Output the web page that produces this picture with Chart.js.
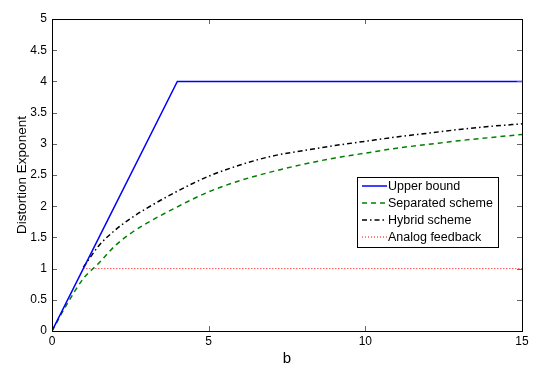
<!doctype html>
<html>
<head>
  <title>Distortion exponent</title>
  <script src="https://cdn.jsdelivr.net/npm/chart.js@4.4.1/dist/chart.umd.min.js"></script>
  <style>
    body { margin: 0; background: #fff; }
    #wrap { width: 546px; height: 372px; }
  </style>
</head>
<body>
  <div id="wrap"><canvas id="canvas"></canvas></div>
  <script>
    // values
    var upperB = [0, 4, 15];
    var upperD = [0, 4, 4];

    var sepB = [0, 0.5, 1, 1.5, 2, 2.5, 3, 4, 5, 6, 7, 8, 9, 10, 11, 12, 13, 14, 15];
    var sepD = [0, 0.45, 0.84, 1.09, 1.36, 1.56, 1.72, 1.99, 2.23, 2.41, 2.55, 2.67, 2.77, 2.85, 2.93, 2.99, 3.05, 3.10, 3.15];

    var hybB = [1, 1.5, 2, 2.5, 3, 4, 5, 6, 7, 8, 9, 10, 11, 12, 13, 14, 15];
    var hybD = [1.02, 1.37, 1.61, 1.80, 1.96, 2.24, 2.48, 2.66, 2.8, 2.89, 2.97, 3.04, 3.11, 3.17, 3.23, 3.28, 3.32];

    var anaB = [1, 15];
    var anaD = [1, 1];

    var xTicks = [0, 5, 10, 15];
    var yTicks = [0, 0.5, 1, 1.5, 2, 2.5, 3, 3.5, 4, 4.5, 5];

    function pts(xs, ys) {
      return xs.map(function (x, i) { return { x: x, y: ys[i] }; });
    }

    var font = 'Helvetica, "Liberation Sans", Arial, sans-serif';

    // MATLAB style box, inward ticks and legend
    var boxPlugin = {
      id: 'box',
      afterDraw: function (chart) {
        var c = chart.ctx, a = chart.chartArea;
        var xs = chart.scales.x, ys = chart.scales.y;
        c.save();
        c.lineWidth = 1;
        c.beginPath();
        xTicks.forEach(function (v) {
          var px = Math.round(xs.getPixelForValue(v)) + 0.5;
          c.moveTo(px, a.bottom); c.lineTo(px, a.bottom - 5);
          c.moveTo(px, a.top); c.lineTo(px, a.top + 5);
        });
        yTicks.forEach(function (v) {
          var py = Math.round(ys.getPixelForValue(v)) + 0.5;
          c.moveTo(a.left, py); c.lineTo(a.left + 5, py);
          c.moveTo(a.right, py); c.lineTo(a.right - 5, py);
        });
        c.strokeStyle = '#666';
        c.stroke();
        c.strokeStyle = '#000';
        c.strokeRect(Math.round(a.left) + 0.5, Math.round(a.top) + 0.5,
          Math.round(a.right - a.left), Math.round(a.bottom - a.top));

        // legend
        var lx = 357.5, ly = 177.5, lw = 141, lh = 70;
        c.fillStyle = '#fff';
        c.fillRect(lx, ly, lw, lh);
        c.strokeStyle = '#000';
        c.strokeRect(lx, ly, lw, lh);
        c.font = '12.5px ' + font;
        c.textBaseline = 'middle';
        chart.data.datasets.forEach(function (ds, i) {
          var y = 186 + i * 17;
          c.beginPath();
          c.setLineDash(ds.borderDash || []);
          c.strokeStyle = ds.borderColor;
          c.lineWidth = ds.borderWidth;
          c.moveTo(362, y); c.lineTo(387, y);
          c.stroke();
          c.setLineDash([]);
          c.fillStyle = '#000';
          c.fillText(ds.label, 388, y + 1);
        });
        c.restore();
      }
    };

    function fmt(v) { return String(+v.toFixed(2)); }

    new Chart(document.getElementById('canvas'), {
      type: 'line',
      data: {
        datasets: [
          { label: 'Upper bound', data: pts(upperB, upperD), borderColor: '#0000ff', borderWidth: 1.5, tension: 0 },
          { label: 'Separated scheme', data: pts(sepB, sepD), borderColor: '#008000', borderWidth: 1.5, borderDash: [5, 4], cubicInterpolationMode: 'monotone' },
          { label: 'Hybrid scheme', data: pts(hybB, hybD), borderColor: '#000000', borderWidth: 1.5, borderDash: [5, 3, 1.5, 3], cubicInterpolationMode: 'monotone' },
          { label: 'Analog feedback', data: pts(anaB, anaD), borderColor: '#ff0000', borderWidth: 1, borderDash: [1, 2] }
        ]
      },
      options: {
        responsive: true,
        maintainAspectRatio: false,
        animation: false,
        events: [],
        elements: { point: { radius: 0 } },
        layout: { padding: { left: 0, right: 24, top: 19, bottom: 0 } },
        plugins: { legend: { display: false }, tooltip: { enabled: false } },
        scales: {
          x: {
            type: 'linear', min: 0, max: 15,
            afterBuildTicks: function (s) { s.ticks = xTicks.map(function (v) { return { value: v }; }); },
            afterFit: function (s) { s.height = 41; },
            grid: { display: false, drawTicks: false },
            border: { display: false },
            ticks: { color: '#000', font: { family: font, size: 12 }, padding: 3, maxRotation: 0, callback: fmt },
            title: { display: true, text: 'b', color: '#000', font: { family: font, size: 15 }, padding: { top: 2 } }
          },
          y: {
            type: 'linear', min: 0, max: 5,
            afterBuildTicks: function (s) { s.ticks = yTicks.map(function (v) { return { value: v }; }); },
            afterFit: function (s) { s.width = 52; },
            grid: { display: false, drawTicks: false },
            border: { display: false },
            ticks: { color: '#000', font: { family: font, size: 12 }, padding: 5, callback: fmt },
            title: { display: true, text: 'Distortion Exponent', color: '#000', font: { family: font, size: 13.5 }, padding: { top: 14, bottom: 2 } }
          }
        }
      },
      plugins: [boxPlugin]
    });
  </script>
</body>
</html>
